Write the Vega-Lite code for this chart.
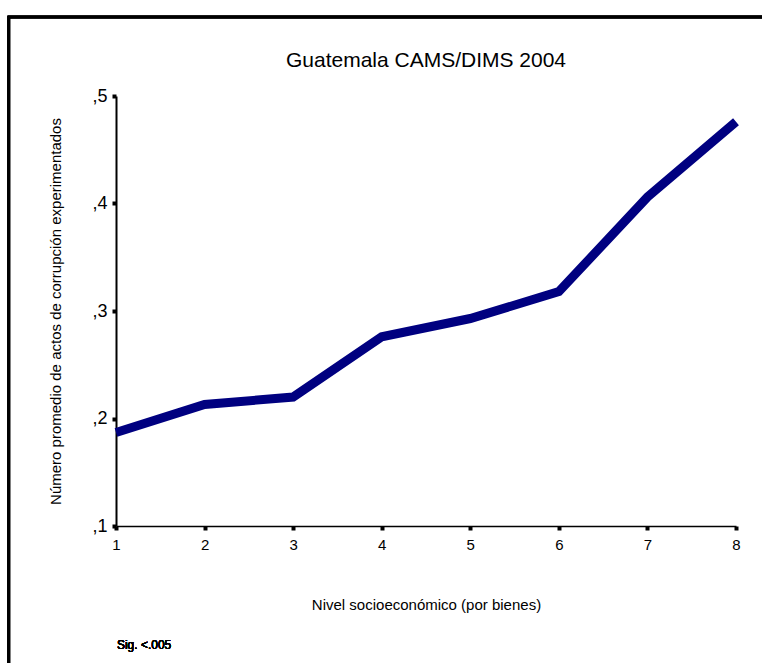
{
  "$schema": "https://vega.github.io/schema/vega-lite/v6.json",
  "autosize": "none",
  "width": 620,
  "height": 430,
  "padding": {"left": 116, "top": 96, "right": 26, "bottom": 137},
  "background": "white",
  "config": {"view": {"stroke": null}, "font": "Liberation Sans"},
  "title": {"text": "Guatemala CAMS/DIMS 2004", "font": "Liberation Sans", "fontSize": 21, "fontWeight": "normal", "color": "black", "offset": -55, "anchor": "middle"},
  "data": {"values": [
    {"nivel": 1, "actos": 0.187},
    {"nivel": 2, "actos": 0.213},
    {"nivel": 3, "actos": 0.220},
    {"nivel": 4, "actos": 0.276},
    {"nivel": 5, "actos": 0.293},
    {"nivel": 6, "actos": 0.318},
    {"nivel": 7, "actos": 0.406},
    {"nivel": 8, "actos": 0.476}
  ]},
  "layer": [
    {
      "mark": {"type": "line", "color": "#000080", "strokeWidth": 9, "strokeJoin": "miter", "strokeCap": "butt"},
      "encoding": {
        "x": {"field": "nivel", "type": "quantitative", "scale": {"domain": [1, 8], "nice": false, "zero": false},
          "axis": {"values": [1,2,3,4,5,6,7,8], "title": "Nivel socioeconómico (por bienes)", "titleFont": "Liberation Sans", "titleFontSize": 15, "titleFontWeight": "normal", "titleColor": "black", "titlePadding": 45, "labelFont": "Liberation Sans", "labelFontSize": 15, "labelColor": "black", "labelPadding": 7, "domainColor": "black", "domainWidth": 1.5, "tickColor": "black", "tickSize": 4, "tickWidth": 4, "grid": false, "labelFlush": false, "format": "d"}},
        "y": {"field": "actos", "type": "quantitative", "scale": {"domain": [0.1, 0.5], "nice": false, "zero": false},
          "axis": {"values": [0.1,0.2,0.3,0.4,0.5], "labelExpr": "',' + format(datum.value*10, 'd')", "title": "Número promedio de actos de corrupción experimentados", "titleFont": "Liberation Sans", "titleFontSize": 15, "titleFontWeight": "normal", "titleColor": "black", "titlePadding": 28, "labelFont": "Liberation Sans", "labelFontSize": 18, "labelColor": "black", "labelPadding": 5, "domainColor": "black", "domainWidth": 2, "tickColor": "black", "tickSize": 4, "tickWidth": 4, "grid": false}}
      }
    },
    {
      "mark": {"type": "text", "text": "Sig. <.005", "font": "Liberation Sans", "align": "left", "baseline": "middle", "fontSize": 12, "fontWeight": "normal", "color": "black", "clip": false},
      "encoding": {"x": {"datum": 1.01}, "y": {"datum": -0.0107}}
    },
    {
      "mark": {"type": "rect", "fill": null, "stroke": "black", "strokeWidth": 2.5, "clip": false},
      "encoding": {"x": {"datum": -0.21}, "x2": {"datum": 9.0}, "y": {"datum": 0.5735}, "y2": {"datum": -0.05}}
    }
  ]
}
